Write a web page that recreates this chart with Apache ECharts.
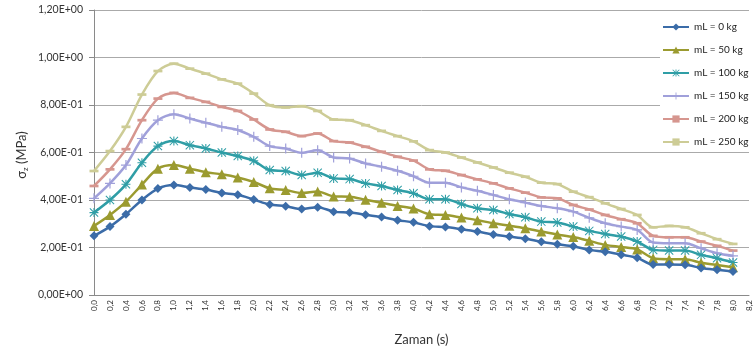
<!DOCTYPE html>
<html>
<head>
<meta charset="utf-8">
<script src="https://cdn.jsdelivr.net/npm/echarts@6/dist/echarts.min.js"></script>
<style>
html,body{margin:0;padding:0;background:#fff;}
#c{width:755px;height:354px;}
</style>
</head>
<body>
<div id="c"></div>
<script>
const xCategories = ['0,0','0,2','0,4','0,6','0,8','1,0','1,2','1,4','1,6','1,8','2,0','2,2','2,4','2,6','2,8','3,0','3,2','3,4','3,6','3,8','4,0','4,2','4,4','4,6','4,8','5,0','5,2','5,4','5,6','5,8','6,0','6,2','6,4','6,6','6,8','7,0','7,2','7,4','7,6','7,8','8,0','8,2'];
const yTickLabels = ['0,00E+00','2,00E-01','4,00E-01','6,00E-01','8,00E-01','1,00E+00','1,20E+00'];
const seriesNames = ['mL = 0 kg','mL = 50 kg','mL = 100 kg','mL = 150 kg','mL = 200 kg','mL = 250 kg'];

const m0 = [0.249,0.288,0.340,0.400,0.448,0.463,0.453,0.444,0.430,0.422,0.402,0.381,0.374,0.362,0.370,0.351,0.347,0.338,0.328,0.315,0.306,0.290,0.286,0.277,0.267,0.255,0.246,0.237,0.224,0.214,0.205,0.190,0.182,0.170,0.157,0.128,0.128,0.127,0.114,0.106,0.099];
const m50 = [0.291,0.337,0.393,0.465,0.532,0.547,0.532,0.517,0.508,0.495,0.476,0.449,0.442,0.429,0.436,0.415,0.414,0.401,0.388,0.375,0.364,0.340,0.337,0.326,0.315,0.302,0.292,0.281,0.267,0.255,0.244,0.228,0.211,0.202,0.192,0.155,0.151,0.151,0.136,0.126,0.117];
const m100 = [0.347,0.400,0.466,0.557,0.627,0.648,0.631,0.617,0.600,0.585,0.565,0.526,0.522,0.505,0.515,0.491,0.488,0.470,0.459,0.442,0.428,0.403,0.403,0.383,0.365,0.358,0.341,0.327,0.309,0.305,0.288,0.270,0.257,0.246,0.225,0.190,0.187,0.187,0.169,0.155,0.137];
const m150 = [0.407,0.470,0.547,0.659,0.736,0.761,0.743,0.725,0.708,0.695,0.666,0.627,0.617,0.599,0.610,0.579,0.575,0.554,0.540,0.523,0.500,0.473,0.473,0.453,0.439,0.421,0.403,0.389,0.375,0.365,0.351,0.325,0.302,0.288,0.274,0.221,0.218,0.218,0.197,0.176,0.165];
const m200 = [0.459,0.529,0.614,0.736,0.827,0.851,0.830,0.813,0.792,0.775,0.739,0.697,0.687,0.669,0.680,0.648,0.642,0.624,0.603,0.582,0.566,0.529,0.523,0.505,0.487,0.470,0.449,0.431,0.411,0.407,0.379,0.360,0.337,0.319,0.302,0.249,0.243,0.243,0.225,0.207,0.187];
const m250 = [0.522,0.606,0.708,0.844,0.943,0.974,0.953,0.932,0.908,0.890,0.848,0.799,0.790,0.795,0.775,0.739,0.736,0.715,0.691,0.669,0.647,0.610,0.600,0.579,0.558,0.537,0.515,0.498,0.473,0.467,0.435,0.412,0.386,0.362,0.337,0.285,0.291,0.285,0.260,0.235,0.215];

const allData = [m0,m50,m100,m150,m200,m250];
const colors = ['#3b6ca8','#9b9b30','#2f9ea6','#a0a0da','#d6968f','#cdcc96'];
const symbols = [
  'diamond',
  'triangle',
  'path://M4.4,0h1.2v10h-1.2z M0,4.4h10v1.2h-10z M0.8,0L10,9.2L9.2,10L0,0.8z M9.2,0L10,0.8L0.8,10L0,9.2z',
  'path://M4.4,0h1.2v10h-1.2z M0,4.4h10v1.2h-10z',
  'path://M0,0h10v3h-10z',
  'path://M0,0h10v3h-10z'
];
const symbolSizes = [9,10,9,10,[9,2.7],[9,2.7]];

const FONT = 'Lato, "Liberation Sans", sans-serif';

const chart = echarts.init(document.getElementById('c'), null, {renderer:'canvas'});
chart.setOption({
  animation:false,
  backgroundColor:'#fff',
  textStyle:{fontFamily:FONT},
  grid:{left:94,right:6,top:10,bottom:59,containLabel:false},
  legend:{
    orient:'vertical',
    left:660,
    top:20,
    backgroundColor:'#fff',
    padding:[2,2,2,2],
    itemWidth:26,
    itemHeight:9,
    itemGap:13,
    textStyle:{fontSize:10,color:'#222',fontFamily:FONT},
    data:seriesNames
  },
  xAxis:{
    type:'category',
    data:xCategories,
    boundaryGap:false,
    axisLine:{lineStyle:{color:'#8a8a8a',width:1}},
    axisTick:{show:false},
    axisLabel:{interval:0,rotate:90,fontSize:8,color:'#333',margin:5,fontFamily:FONT},
    splitLine:{show:false},
    name:'Zaman (s)',
    nameLocation:'middle',
    nameGap:38,
    nameTextStyle:{fontSize:13,color:'#333',fontFamily:FONT}
  },
  yAxis:{
    type:'value',
    min:0,max:1.2,interval:0.2,
    axisLine:{show:true,lineStyle:{color:'#8a8a8a',width:1}},
    axisTick:{show:true,length:5,inside:false,lineStyle:{color:'#8a8a8a'}},
    axisLabel:{fontSize:10.5,color:'#333',margin:11,fontFamily:FONT,
      formatter:function(v){return yTickLabels[Math.round(v/0.2)];}},
    splitLine:{lineStyle:{color:'#aaaaaa',width:1}}
  },
  graphic:[{
    type:'text',
    x:22,y:155,
    rotation:Math.PI/2,
    style:{
      text:'σ{sub|z} (MPa)',
      rich:{sub:{fontSize:8,verticalAlign:'bottom',padding:[6,0,0,0],fontFamily:FONT,fill:'#333'}},
      fontSize:13,fontFamily:FONT,fill:'#333',
      align:'center',verticalAlign:'middle'
    }
  }],
  series:allData.map(function(d,i){
    return {
      name:seriesNames[i],
      type:'line',
      data:d,
      smooth:0.3,
      symbol:symbols[i],
      symbolSize:symbolSizes[i],
      symbolKeepAspect:false,
      showAllSymbol:true,
      lineStyle:{color:colors[i],width:2.5},
      itemStyle:{color:colors[i],borderWidth:0},
      z:10-i
    };
  })
});
</script>
</body>
</html>
